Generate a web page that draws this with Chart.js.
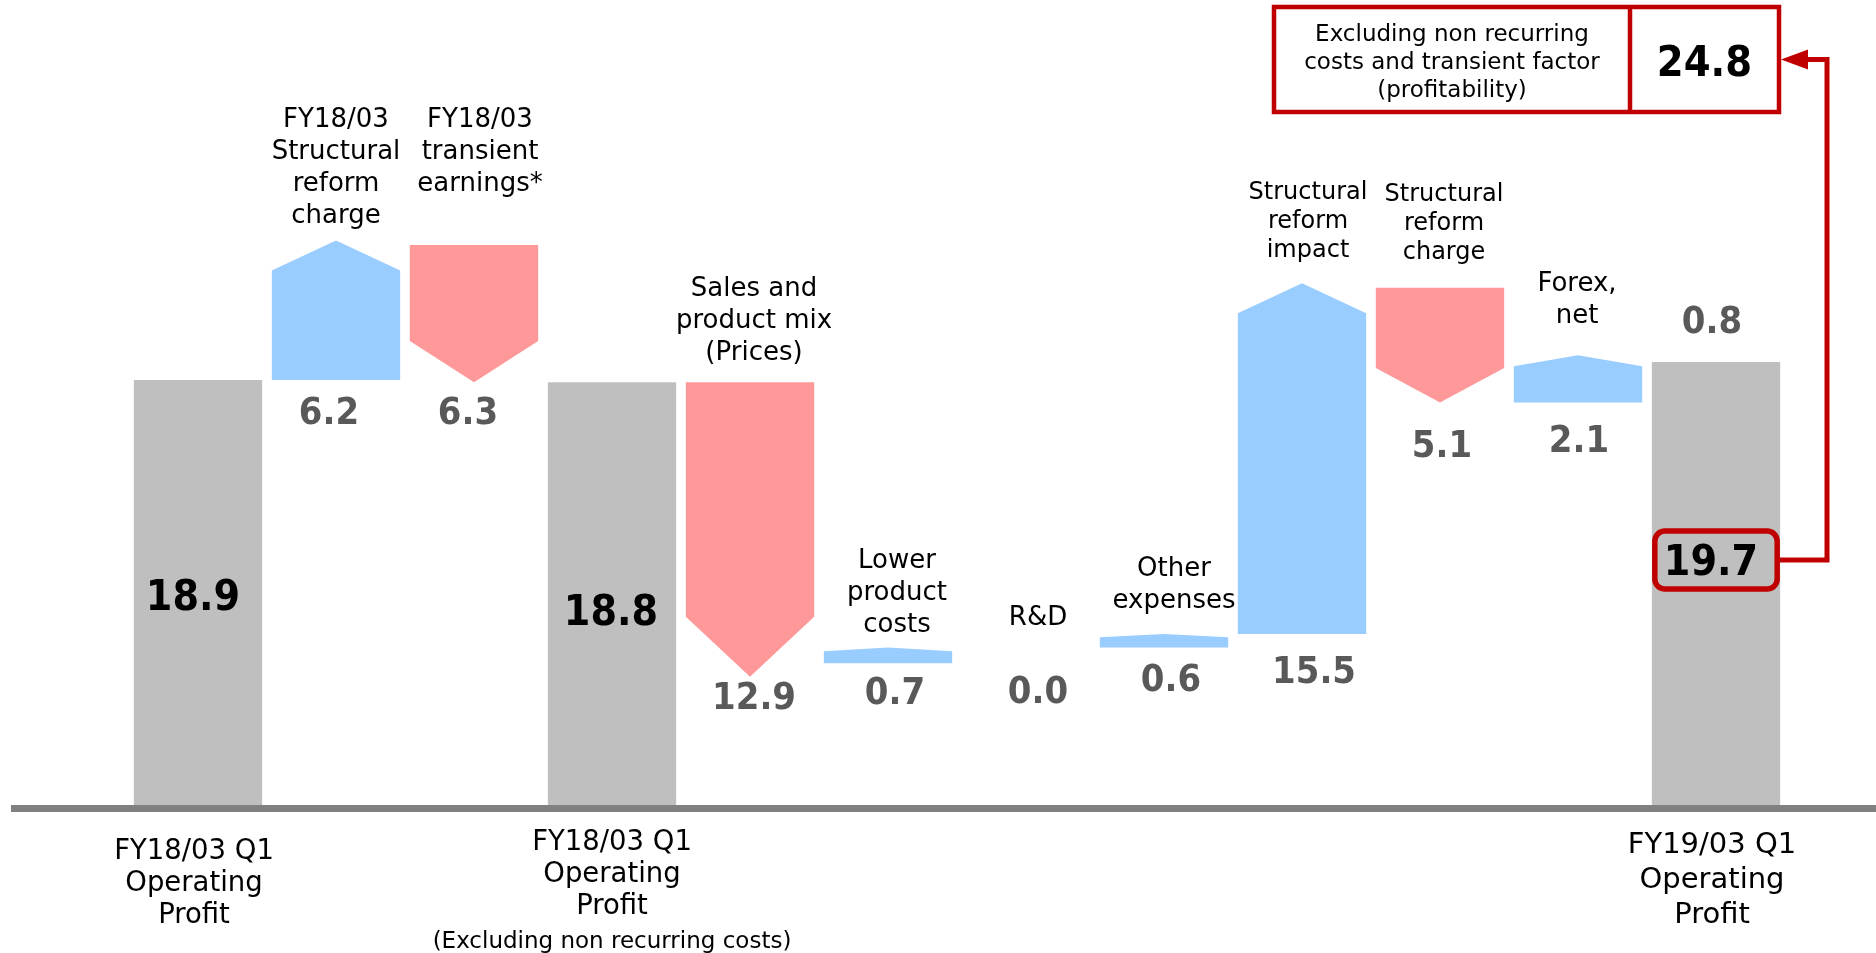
<!DOCTYPE html>
<html>
<head>
<meta charset="utf-8">
<script src="https://cdn.jsdelivr.net/npm/chart.js@4.4.1/dist/chart.umd.min.js"></script>
<style>
html,body{margin:0;padding:0;background:#fff;overflow:hidden}
#wrap{position:relative;width:1876px;height:953px}
</style>
</head>
<body>
<div id="wrap"><canvas id="c"></canvas></div>
<script>
// ---------------- DATA ----------------
const categories = [
  'FY18/03 Q1 Operating Profit',
  'FY18/03 Structural reform charge',
  'FY18/03 transient earnings*',
  'FY18/03 Q1 Operating Profit (Excluding non recurring costs)',
  'Sales and product mix (Prices)',
  'Lower product costs',
  'R&D',
  'Other expenses',
  'Structural reform impact',
  'Structural reform charge',
  'Forex, net',
  'FY19/03 Q1 Operating Profit'
];
const categoryLines = [
  ['FY18/03 Q1','Operating','Profit'],
  ['FY18/03','Structural','reform','charge'],
  ['FY18/03','transient','earnings*'],
  ['FY18/03 Q1','Operating','Profit','(Excluding non recurring costs)'],
  ['Sales and','product mix','(Prices)'],
  ['Lower','product','costs'],
  ['R&D'],
  ['Other','expenses'],
  ['Structural','reform','impact'],
  ['Structural','reform','charge'],
  ['Forex,','net'],
  ['FY19/03 Q1','Operating','Profit']
];
// bar extents (start -> end)
const barStart = [0, 18.9, 24.9, 0, 18.8, 6.3, 7.0, 7.0, 7.6, 23.0, 17.9, 0];
const barEnd   = [18.9, 25.1, 18.8, 18.8, 5.7, 7.0, 7.0, 7.6, 23.2, 17.9, 20.0, 19.7];
const valueLabels = ['18.9','6.2','6.3','18.8','12.9','0.7','0.0','0.6','15.5','5.1','2.1','19.7'];
const barKind = ['total','up','down','total','down','up','flat','up','up','down','up','total'];
const yoyChangeLabel = '0.8';
const adjustedProfitLabel = '24.8';
const adjustedNoteLines = ['Excluding non recurring','costs and transient factor','(profitability)'];

// ---------------- STYLE ----------------
const COLORS = { total:'#BFBFBF', up:'#99CCFF', down:'#FF9999', flat:'rgba(0,0,0,0)' };
const RED = '#C00000';
const FONT = '"DejaVu Sans", Verdana, sans-serif';
const catStyle = [
  {pos:'below', size:27.5, lh:32, dy:54, dx:-4},
  {pos:'above', size:26, lh:32, dy:-17.6, dx:0},
  {pos:'above', size:26, lh:32, dy:-54, dx:6},
  {pos:'below', size:27.5, lh:32, dy:45, dx:0, lastSize:23, lastGap:34},
  {pos:'above', size:26, lh:32, dy:-22, dx:4},
  {pos:'above', size:26, lh:32, dy:-15.6, dx:9},
  {pos:'above', size:26, lh:32, dy:-22.6, dx:12},
  {pos:'above', size:26, lh:32, dy:-26, dx:10},
  {pos:'above', size:24, lh:29, dy:-26, dx:6},
  {pos:'above', size:24, lh:29, dy:-29, dx:4},
  {pos:'above', size:26, lh:32, dy:-32.6, dx:-1},
  {pos:'below', size:29, lh:35, dy:48, dx:-4}
];
const valStyle = [
  {ref:'top', dy:230, dx:-5},
  {ref:'low', dy:44, dx:-7},
  {ref:'low', dy:42, dx:-6},
  {ref:'top', dy:243, dx:-1},
  {ref:'low', dy:32, dx:4},
  {ref:'low', dy:41, dx:7},
  {ref:'low', dy:55, dx:12},
  {ref:'low', dy:43, dx:7},
  {ref:'low', dy:49, dx:12},
  {ref:'low', dy:54.5, dx:2},
  {ref:'low', dy:49.5, dx:1},
  {ref:'top', dy:213, dx:-5}
];

function txt(ctx, s, x, y, font, color, sx) {
  ctx.save();
  ctx.font = font;
  ctx.fillStyle = color;
  ctx.textAlign = 'center';
  ctx.textBaseline = 'alphabetic';
  ctx.translate(x, y);
  ctx.scale(sx || 1, 1);
  ctx.fillText(s, 0, 0);
  ctx.restore();
}

function roundRect(ctx, x, y, w, h, r) {
  ctx.beginPath();
  ctx.moveTo(x + r, y);
  ctx.lineTo(x + w - r, y);
  ctx.arcTo(x + w, y, x + w, y + r, r);
  ctx.lineTo(x + w, y + h - r);
  ctx.arcTo(x + w, y + h, x + w - r, y + h, r);
  ctx.lineTo(x + r, y + h);
  ctx.arcTo(x, y + h, x, y + h - r, r);
  ctx.lineTo(x, y + r);
  ctx.arcTo(x, y, x + r, y, r);
  ctx.closePath();
}

const waterfallPlugin = {
  id: 'waterfall',
  afterDatasetsDraw(chart) {
    const ctx = chart.ctx;
    const ys = chart.scales.y;
    const meta = chart.getDatasetMeta(0);
    const zero = ys.getPixelForValue(0);

    // arrow-shaped change bars
    meta.data.forEach((el, i) => {
      const kind = barKind[i];
      if (kind !== 'up' && kind !== 'down') return;
      const x0 = el.x - el.width / 2, x1 = el.x + el.width / 2;
      const ps = ys.getPixelForValue(barStart[i]);
      const pe = ys.getPixelForValue(barEnd[i]);
      const h = Math.abs(ps - pe);
      ctx.save();
      ctx.beginPath();
      if (kind === 'up') {
        const head = Math.min(30, 0.23 * h);
        ctx.moveTo(x0, ps); ctx.lineTo(x0, pe + head); ctx.lineTo(el.x, pe);
        ctx.lineTo(x1, pe + head); ctx.lineTo(x1, ps);
      } else {
        const head = Math.min(60, 0.3 * h);
        ctx.moveTo(x0, ps); ctx.lineTo(x1, ps); ctx.lineTo(x1, pe - head);
        ctx.lineTo(el.x, pe); ctx.lineTo(x0, pe - head);
      }
      ctx.closePath();
      ctx.fillStyle = COLORS[kind];
      ctx.fill();
      ctx.restore();
    });

    // baseline axis
    ctx.save();
    ctx.fillStyle = '#808080';
    ctx.fillRect(11, zero, chart.width - 11, 7);
    ctx.restore();
  },
  afterDraw(chart) {
    const ctx = chart.ctx;
    const ys = chart.scales.y;
    const meta = chart.getDatasetMeta(0);
    const zero = ys.getPixelForValue(0);

    meta.data.forEach((el, i) => {
      const ps = ys.getPixelForValue(barStart[i]);
      const pe = ys.getPixelForValue(barEnd[i]);
      const topPx = Math.min(ps, pe), lowPx = Math.max(ps, pe);
      const cs = catStyle[i];
      const lines = categoryLines[i];
      const cx = el.x + cs.dx;
      if (cs.pos === 'above') {
        const last = topPx + cs.dy;
        lines.forEach((ln, k) => {
          const y = last - (lines.length - 1 - k) * cs.lh;
          txt(ctx, ln, cx, y, cs.size + 'px ' + FONT, '#000');
        });
      } else {
        lines.forEach((ln, k) => {
          if (cs.lastSize && k === lines.length - 1) {
            const y = zero + cs.dy + (k - 1) * cs.lh + cs.lastGap;
            txt(ctx, ln, cx, y, cs.lastSize + 'px ' + FONT, '#000');
          } else {
            txt(ctx, ln, cx, zero + cs.dy + k * cs.lh, cs.size + 'px ' + FONT, '#000');
          }
        });
      }
      // value labels
      const vs = valStyle[i];
      const vx = el.x + vs.dx;
      if (vs.ref === 'top') {
        txt(ctx, valueLabels[i], vx, topPx + vs.dy, 'bold 42px ' + FONT, '#000', 0.91);
      } else {
        txt(ctx, valueLabels[i], vx, lowPx + vs.dy, 'bold 37px ' + FONT, '#595959', 0.92);
      }
    });

    // YoY change above final bar
    const last = meta.data[meta.data.length - 1];
    const lastTop = ys.getPixelForValue(barEnd[barEnd.length - 1]);
    txt(ctx, yoyChangeLabel, last.x - 4, lastTop - 29, 'bold 37px ' + FONT, '#595959', 0.92);

    // highlight box around final value
    const labelBase = lastTop + valStyle[valStyle.length - 1].dy;
    const hbCenterY = labelBase - 15;
    const hbW = last.width - 6, hbH = 58;
    const hbX = last.x - hbW / 2, hbY = hbCenterY - hbH / 2;
    ctx.save();
    ctx.strokeStyle = RED;
    ctx.lineWidth = 5.5;
    roundRect(ctx, hbX, hbY, hbW, hbH, 10);
    ctx.stroke();
    ctx.restore();

    // top summary box
    const bx0 = 1274, bx1 = 1779, by0 = 7, by1 = 112, bdiv = 1630;
    ctx.save();
    ctx.strokeStyle = RED;
    ctx.lineWidth = 4.5;
    ctx.strokeRect(bx0, by0, bx1 - bx0, by1 - by0);
    ctx.beginPath(); ctx.moveTo(bdiv, by0); ctx.lineTo(bdiv, by1); ctx.stroke();
    ctx.restore();
    const noteX = (bx0 + bdiv) / 2;
    adjustedNoteLines.forEach((ln, k) => txt(ctx, ln, noteX, 41 + k * 28, '23px ' + FONT, '#000'));
    txt(ctx, adjustedProfitLabel, (bdiv + bx1) / 2, 76, 'bold 42px ' + FONT, '#000', 0.92);

    // connector with arrow
    const midY = (by0 + by1) / 2;
    const vx = 1827;
    ctx.save();
    ctx.strokeStyle = RED;
    ctx.fillStyle = RED;
    ctx.lineWidth = 5;
    ctx.lineJoin = 'miter';
    ctx.beginPath();
    ctx.moveTo(hbX + hbW + 2.5, hbCenterY);
    ctx.lineTo(vx, hbCenterY);
    ctx.lineTo(vx, midY);
    ctx.lineTo(1805, midY);
    ctx.stroke();
    ctx.beginPath();
    ctx.moveTo(bx1 + 2, midY);
    ctx.lineTo(1808, midY - 10);
    ctx.lineTo(1808, midY + 10);
    ctx.closePath();
    ctx.fill();
    ctx.restore();
  }
};

new Chart(document.getElementById('c'), {
  type: 'bar',
  data: {
    labels: categories,
    datasets: [{
      data: categories.map((_, i) => [barStart[i], barEnd[i]]),
      backgroundColor: barKind.map(k => k === 'total' ? COLORS.total : 'rgba(0,0,0,0)'),
      borderWidth: 0,
      barPercentage: 0.93,
      categoryPercentage: 1.0
    }]
  },
  options: {
    responsive: true,
    maintainAspectRatio: false,
    devicePixelRatio: 1,
    animation: false,
    layout: { padding: { left: 129, right: 91, top: 0, bottom: 148 } },
    plugins: { legend: { display: false }, tooltip: { enabled: false } },
    scales: {
      x: { display: false },
      y: { display: false, min: 0, max: 35.8 }
    }
  },
  plugins: [waterfallPlugin]
});
</script>
</body>
</html>
